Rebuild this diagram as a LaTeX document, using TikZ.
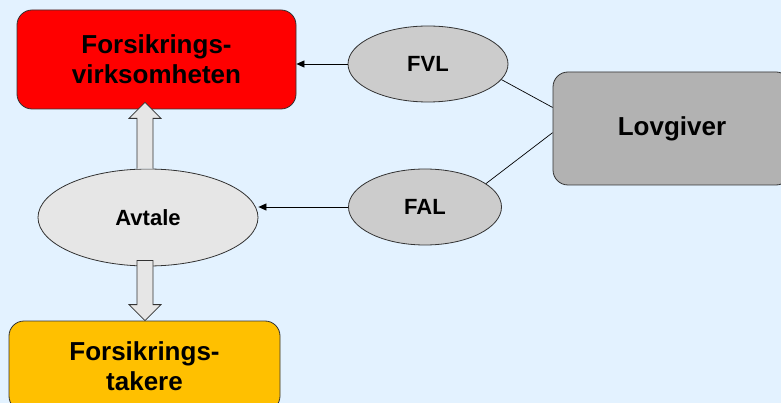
\documentclass[tikz,border=0pt]{standalone}
\usepackage{fontspec}
\setmainfont{Liberation Sans}
\usetikzlibrary{arrows.meta,shapes.geometric,calc}

\definecolor{bgblue}{RGB}{227,242,255}
\definecolor{lawgray}{RGB}{204,204,204}
\definecolor{dealgray}{RGB}{230,230,230}
\definecolor{govgray}{RGB}{178,178,178}
\definecolor{takeryellow}{RGB}{255,192,0}

\begin{document}
\begin{tikzpicture}[x=1pt,y=-1pt,>={Triangle[length=8pt,width=7pt]},line width=0.7pt]
  \tikzstyle{box}=[draw=black!80,line width=0.8pt,rounded corners=15pt,inner sep=0pt,align=center,font=\fontsize{26}{30}\selectfont\bfseries]
  \tikzstyle{law}=[draw=black!80,line width=0.8pt,ellipse,inner sep=0pt,font=\fontsize{22}{26}\selectfont\bfseries]
  \tikzstyle{fat}=[draw=black!80,fill=dealgray,line width=0.8pt,line join=miter]

  \fill[bgblue] (0,0) rectangle (781,403);
  \useasboundingbox (0,0) rectangle (781,403);

  \node[box,fill=red,minimum width=279pt,minimum height=99pt] (V) at (156.5,59.5) {Forsikrings-\\virksomheten};
  \node[box,fill=govgray,minimum width=238pt,minimum height=113pt] (L) at (672,128.5) {Lovgiver};
  \node[box,fill=takeryellow,minimum width=271pt,minimum height=90pt] (T) at (144.5,366) {Forsikrings-\\takere};
  \node[law,fill=lawgray,minimum width=160pt,minimum height=76pt] (F) at (428,64) {FVL};
  \node[law,fill=lawgray,minimum width=153pt,minimum height=76pt] (A) at (425,207) {FAL};
  \node[law,fill=dealgray,minimum width=220pt,minimum height=97pt] (Av) at (148,217.5) {Avtale};

  % lovgiver -- lovene
  \draw (L.170) -- (F.-12);
  \draw (L.182) -- (A.21);
  \draw[->] (F.west) -- (F.west -| V.east);
  \draw[->] (A.west) -- (A.west -| Av.east);

  % blokkpiler
  \coordinate (uptip) at ($(V.south -| 145,0)+(0,-7)$);
  \coordinate (upbase) at (Av.north -| 145,0);
  \coordinate (dntip) at (T.north -| 145,0);
  \coordinate (dnbase) at ($(Av.south -| 145,0)+(0,-6)$);
  \draw[fat] ($(upbase)+(-8,0)$) -- ($(uptip)+(-8,16)$) -- ($(uptip)+(-16,16)$) -- (uptip)
    -- ($(uptip)+(16,16)$) -- ($(uptip)+(8,16)$) -- ($(upbase)+(8,0)$);
  \draw[fat] ($(dnbase)+(-8,0)$) -- ($(dntip)+(-8,-16)$) -- ($(dntip)+(-16,-16)$) -- (dntip)
    -- ($(dntip)+(16,-16)$) -- ($(dntip)+(8,-16)$) -- ($(dnbase)+(8,0)$) -- cycle;
\end{tikzpicture}
\end{document}
